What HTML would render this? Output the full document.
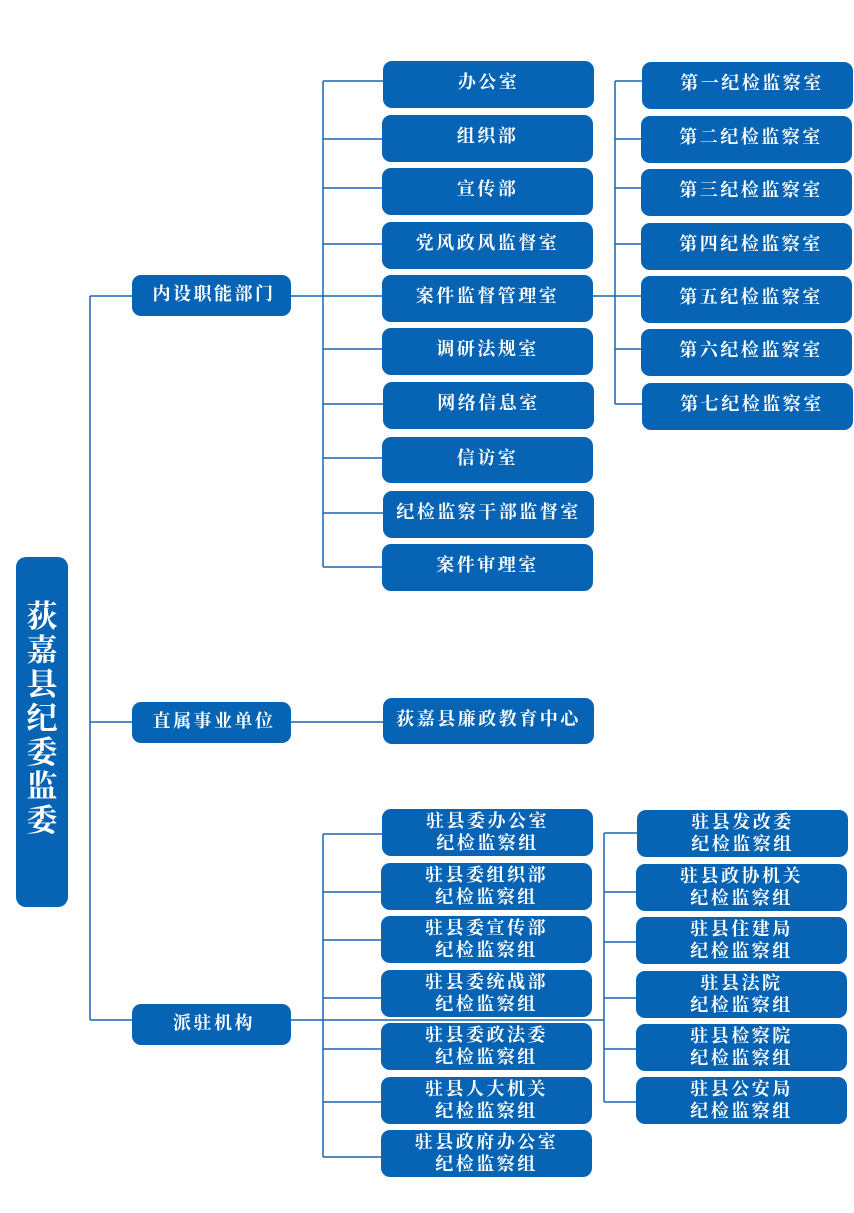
<!DOCTYPE html>
<html><head><meta charset="utf-8">
<style>
html,body{margin:0;padding:0;background:#fff;}
body{width:854px;height:1213px;position:relative;overflow:hidden;}
.b{position:absolute;background:#0764b4;border-radius:9px;color:#fff;display:flex;align-items:center;justify-content:center;text-align:center;
font-family:"Liberation Serif","Noto Serif CJK SC",serif;font-weight:700;font-size:18px;letter-spacing:2.5px;line-height:21.5px;box-sizing:border-box;white-space:nowrap;}
.m{width:211px;height:47px;padding-bottom:3px;}
.r{width:211px;height:47px;padding-bottom:3px;padding-left:9px;}
.l{left:132px;width:159px;height:41px;padding-bottom:1px;padding-left:5px;}
.t{width:211px;height:47px;}
.root{left:16px;top:557px;width:52px;height:350px;border-radius:10px;font-size:31px;line-height:34px;letter-spacing:0;display:block;padding-top:43px;}
svg{position:absolute;left:0;top:0;}
</style></head><body>
<svg width="854" height="1213" viewBox="0 0 854 1213">
<g stroke="#1a67b0" stroke-width="1.5" fill="none">
<path d="M90 296V1020M90 296H132M90 722H132M90 1020H132"/>
<path d="M291 296H323M323 81V567M323 81H383M323 139H382M323 188H382M323 244H382M323 296H382M323 349H382M323 404H383M323 458H382M323 513H383M323 567H382"/>
<path d="M593 296H615M615 81V404M615 81H642M615 139H642M615 188H642M615 244H642M615 296H642M615 349H642M615 404H642"/>
<path d="M291 722H383"/>
<path d="M291 1020H604M323 834V1157M323 834H382M323 892H382M323 940H382M323 998H382M323 1049H382M323 1102H382M323 1157H382"/>
<path d="M604 833V1102M604 833H637M604 892H637M604 942H637M604 998H637M604 1049H637M604 1102H637"/>
</g>
</svg>

<div class="b root">荻<br>嘉<br>县<br>纪<br>委<br>监<br>委</div>

<div class="b l" style="top:275px;">内设职能部门</div>
<div class="b l" style="top:702px;">直属事业单位</div>
<div class="b l" style="top:1004px;">派驻机构</div>

<div class="b m" style="left:383px;top:61px;">办公室</div>
<div class="b m" style="left:382px;top:115px;">组织部</div>
<div class="b m" style="left:382px;top:168px;">宣传部</div>
<div class="b m" style="left:382px;top:222px;">党风政风监督室</div>
<div class="b m" style="left:382px;top:275px;">案件监督管理室</div>
<div class="b m" style="left:382px;top:328px;">调研法规室</div>
<div class="b m" style="left:383px;top:382px;">网络信息室</div>
<div class="b m" style="left:382px;top:437px;height:46px;">信访室</div>
<div class="b m" style="left:383px;top:491px;">纪检监察干部监督室</div>
<div class="b m" style="left:382px;top:544px;">案件审理室</div>

<div class="b r" style="left:642px;top:62px;">第一纪检监察室</div>
<div class="b r" style="left:641px;top:116px;">第二纪检监察室</div>
<div class="b r" style="left:641px;top:169px;">第三纪检监察室</div>
<div class="b r" style="left:641px;top:223px;">第四纪检监察室</div>
<div class="b r" style="left:641px;top:276px;">第五纪检监察室</div>
<div class="b r" style="left:641px;top:329px;">第六纪检监察室</div>
<div class="b r" style="left:642px;top:383px;">第七纪检监察室</div>

<div class="b m" style="left:383px;top:698px;height:46px;">荻嘉县廉政教育中心</div>

<div class="b t" style="left:382px;top:809px;">驻县委办公室<br>纪检监察组</div>
<div class="b t" style="left:381px;top:863px;">驻县委组织部<br>纪检监察组</div>
<div class="b t" style="left:381px;top:916px;">驻县委宣传部<br>纪检监察组</div>
<div class="b t" style="left:381px;top:970px;">驻县委统战部<br>纪检监察组</div>
<div class="b t" style="left:381px;top:1023px;">驻县委政法委<br>纪检监察组</div>
<div class="b t" style="left:381px;top:1077px;">驻县人大机关<br>纪检监察组</div>
<div class="b t" style="left:381px;top:1130px;">驻县政府办公室<br>纪检监察组</div>

<div class="b t" style="left:637px;top:810px;">驻县发改委<br>纪检监察组</div>
<div class="b t" style="left:636px;top:864px;">驻县政协机关<br>纪检监察组</div>
<div class="b t" style="left:636px;top:917px;">驻县住建局<br>纪检监察组</div>
<div class="b t" style="left:636px;top:971px;">驻县法院<br>纪检监察组</div>
<div class="b t" style="left:636px;top:1024px;">驻县检察院<br>纪检监察组</div>
<div class="b t" style="left:636px;top:1077px;">驻县公安局<br>纪检监察组</div>
</body></html>
